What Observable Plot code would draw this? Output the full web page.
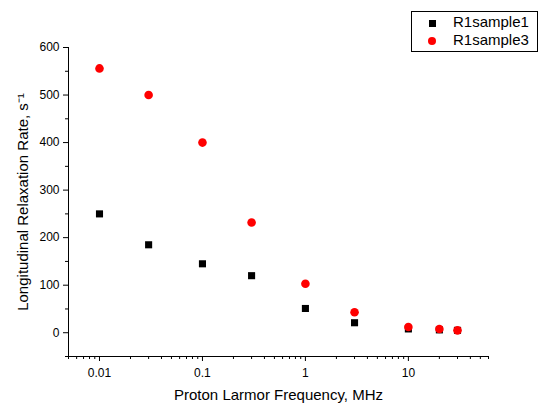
<!DOCTYPE html>
<html>
<head>
<meta charset="utf-8">
<script src="https://cdn.jsdelivr.net/npm/d3@7"></script>
<script src="https://cdn.jsdelivr.net/npm/@observablehq/plot@0.6"></script>
<style>
  html, body { margin: 0; padding: 0; background: #fff; }
  #wrap { position: relative; width: 538px; height: 403px; font-family: "Liberation Sans", Arial, sans-serif; }
  #legend { position: absolute; left: 411px; top: 11px; width: 125px; height: 39px; border: 1px solid #000; background: #fff; font-size: 15px; }
  .sw { position: absolute; }
  .lbl { position: absolute; left: 41px; height: 18px; line-height: 18px; white-space: nowrap; }
</style>
</head>
<body>
<div id="wrap"></div>
<script>
const freq = [0.01, 0.03, 0.1, 0.3, 1, 3, 10, 20, 30];
const sample1 = [250, 185, 145, 120, 51, 21, 8, 6, 5];
const sample3 = [556, 500, 400, 232, 103, 43, 12, 8, 5];
const seriesNames = ["R1sample1", "R1sample3"];
const xMajor = [0.01, 0.1, 1, 10];
const yMajor = [0, 100, 200, 300, 400, 500, 600];
const yMinor = [-50, 50, 150, 250, 350, 450, 550];
const xDomain = [0.005, 60];
const yDomain = [-50, 600];

const xMinor = [];
for (const d of [0.001, 0.01, 0.1, 1, 10]) for (let k = 2; k <= 9; k++) {
  const v = +(d * k).toPrecision(3);
  if (v >= xDomain[0] && v <= xDomain[1]) xMinor.push(v);
}

const d1 = freq.map((f, i) => ({f, v: sample1[i]}));
const d3s = freq.map((f, i) => ({f, v: sample3[i]}));

const font = "Liberation Sans, Arial, sans-serif";
const chart = Plot.plot({
  width: 538, height: 403,
  marginLeft: 68, marginRight: 50, marginTop: 47, marginBottom: 47,
  style: {fontFamily: font, fontSize: "12px", color: "#000", background: "#fff"},
  x: {type: "log", domain: xDomain},
  y: {domain: yDomain},
  marks: [
    Plot.axisX({ticks: xMinor, tickSize: 3, text: null, label: null}),
    Plot.axisX({ticks: xMajor, tickSize: 5, tickPadding: 7, tickFormat: d => String(d),
      label: "Proton Larmor Frequency, MHz", labelAnchor: "center", labelOffset: 43, labelArrow: "none"}),
    Plot.axisY({ticks: yMinor, tickSize: 3, text: null, label: null}),
    Plot.axisY({ticks: yMajor, tickSize: 5, tickPadding: 4, tickFormat: d => String(d),
      label: "Longitudinal Relaxation Rate, s⁻¹", labelAnchor: "center", labelOffset: 51, labelArrow: "none"}),
    Plot.ruleX([xDomain[0]], {stroke: "#000", strokeWidth: 1}),
    Plot.ruleY([yDomain[0]], {stroke: "#000", strokeWidth: 1}),
    Plot.dot(d1, {x: "f", y: "v", symbol: "square", r: 4, fill: "#000", stroke: "none"}),
    Plot.dot(d3s, {x: "f", y: "v", symbol: "circle", r: 4.3, fill: "#ff0000", stroke: "none"})
  ]
});
const wrap = document.getElementById("wrap");
wrap.appendChild(chart);
d3.select(chart).selectAll("[aria-label='x-axis label'] text, [aria-label='y-axis label'] text").style("font-size", "15px");

const lg = document.createElement("div");
lg.id = "legend";
lg.innerHTML = `
  <div class="sw" style="left:17px;top:8px;width:7px;height:7px;background:#000"></div>
  <span class="lbl" style="top:1px">${seriesNames[0]}</span>
  <div class="sw" style="left:16px;top:25px;width:8px;height:8px;background:#ff0000;border-radius:50%"></div>
  <span class="lbl" style="top:19px">${seriesNames[1]}</span>`;
wrap.appendChild(lg);
</script>
</body>
</html>
